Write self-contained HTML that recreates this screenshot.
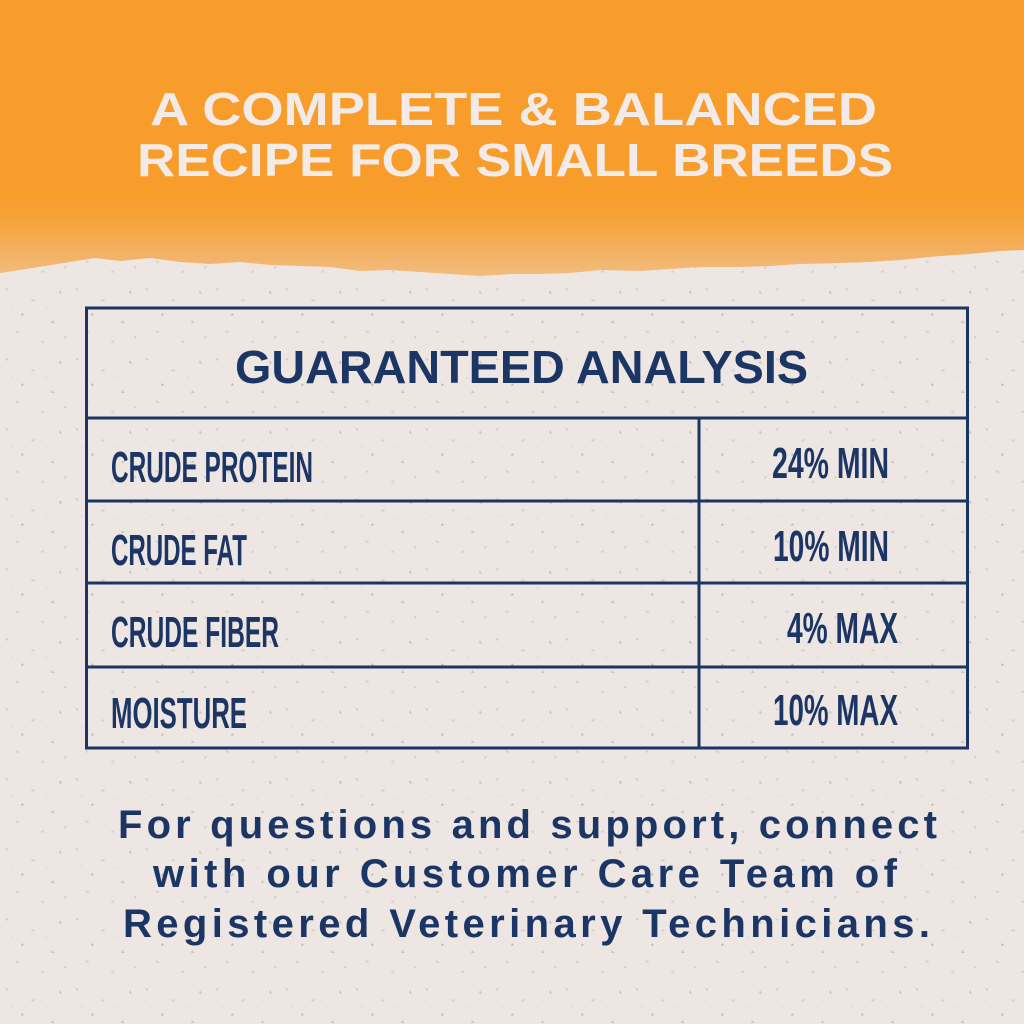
<!DOCTYPE html>
<html>
<head>
<meta charset="utf-8">
<style>
  html, body { margin:0; padding:0; background:#eee6e2; }
  body { width:1024px; height:1024px; overflow:hidden; }
  svg { display:block; }
</style>
</head>
<body>
<svg width="1024" height="1024" viewBox="0 0 1024 1024" xmlns="http://www.w3.org/2000/svg">
  <defs>
    <linearGradient id="band" x1="0" y1="0" x2="0" y2="1">
      <stop offset="0" stop-color="#f89c2b"/>
      <stop offset="0.35" stop-color="#f6a43c"/>
      <stop offset="0.7" stop-color="#f3b062"/>
      <stop offset="1" stop-color="#f1bd80"/>
    </linearGradient>
    <pattern id="speck" x="0" y="0" width="70" height="70" patternUnits="userSpaceOnUse">
      <path d="M5 8 l4 1 l-2 2z" fill="#d4ccc8"/>
      <path d="M30 20 l5 -1 l-1 3z" fill="#d9d1cd"/>
      <path d="M52 40 l3 3 l-4 0z" fill="#cfc7c3"/>
      <path d="M15 50 l5 2 l-3 1z" fill="#d6cecb"/>
      <path d="M60 10 l2 4 l-3 -1z" fill="#c9c1bd"/>
      <path d="M40 62 l4 -2 l0 3z" fill="#dad2ce"/>
      <path d="M22 33 l2 2 l-3 1z" fill="#bfb7b3"/>
      <path d="M64 56 l3 1 l-2 2z" fill="#d2cac6"/>
      <path d="M45 28 l3 -2 l1 3z" fill="#e6dedb"/>
      <path d="M10 25 l3 1 l-1 2z" fill="#e3dbd8"/>
    </pattern>
  </defs>

  <!-- background -->
  <rect x="0" y="0" width="1024" height="1024" fill="#eee6e2"/>
  <rect x="0" y="240" width="1024" height="784" fill="url(#speck)"/>

  <!-- orange top -->
  <rect x="0" y="0" width="1024" height="205" fill="#f89c2b"/>
  <polygon fill="url(#band)" points="0,195 1024,195 1024,250 1000,251 970,254 940,256 920,258 900,260 870,262 840,263 800,264 770,266 740,267 700,267 670,269 640,271 600,270 570,273 540,274 512,274 480,276 450,274 420,272 390,270 360,271 330,267 300,266 270,265 240,262 210,264 180,262 150,258 120,261 95,258 70,262 45,266 20,270 0,273"/>

  <!-- title -->
  <g font-family="'Liberation Sans', sans-serif" font-weight="bold" font-size="46" fill="#f3ebe7">
    <text x="150" y="125" textLength="727" lengthAdjust="spacingAndGlyphs">A COMPLETE &amp; BALANCED</text>
    <text x="137" y="176" textLength="756" lengthAdjust="spacingAndGlyphs">RECIPE FOR SMALL BREEDS</text>
  </g>

  <!-- table -->
  <g stroke="#1b3564" stroke-width="3" fill="none">
    <rect x="86.5" y="308" width="881" height="440"/>
    <line x1="86.5" y1="418" x2="967.5" y2="418"/>
    <line x1="86.5" y1="501" x2="967.5" y2="501"/>
    <line x1="86.5" y1="583" x2="967.5" y2="583"/>
    <line x1="86.5" y1="667" x2="967.5" y2="667"/>
    <line x1="699" y1="418" x2="699" y2="748"/>
  </g>

  <text x="235" y="383" font-family="'Liberation Sans', sans-serif" font-weight="bold" font-size="46" fill="#1b3564" textLength="573" lengthAdjust="spacingAndGlyphs">GUARANTEED ANALYSIS</text>

  <g font-family="'Liberation Sans', sans-serif" font-weight="bold" font-size="44" fill="#1b3564">
    <text x="111" y="482" textLength="202" lengthAdjust="spacingAndGlyphs">CRUDE PROTEIN</text>
    <text x="111" y="565" textLength="136" lengthAdjust="spacingAndGlyphs">CRUDE FAT</text>
    <text x="111" y="647" textLength="168" lengthAdjust="spacingAndGlyphs">CRUDE FIBER</text>
    <text x="111" y="728" textLength="136" lengthAdjust="spacingAndGlyphs">MOISTURE</text>

    <text x="772" y="478" textLength="117" lengthAdjust="spacingAndGlyphs">24% MIN</text>
    <text x="773" y="561" textLength="116" lengthAdjust="spacingAndGlyphs">10% MIN</text>
    <text x="787" y="643" textLength="111" lengthAdjust="spacingAndGlyphs">4% MAX</text>
    <text x="773" y="725" textLength="125" lengthAdjust="spacingAndGlyphs">10% MAX</text>
  </g>

  <!-- bottom text -->
  <g font-family="'Liberation Sans', sans-serif" font-weight="bold" font-size="40" fill="#1b3564">
    <text x="118" y="838" textLength="819" lengthAdjust="spacing">For questions and support, connect</text>
    <text x="153" y="887" textLength="744" lengthAdjust="spacing">with our Customer Care Team of</text>
    <text x="123" y="937" textLength="807" lengthAdjust="spacing">Registered Veterinary Technicians.</text>
  </g>
</svg>
</body>
</html>
